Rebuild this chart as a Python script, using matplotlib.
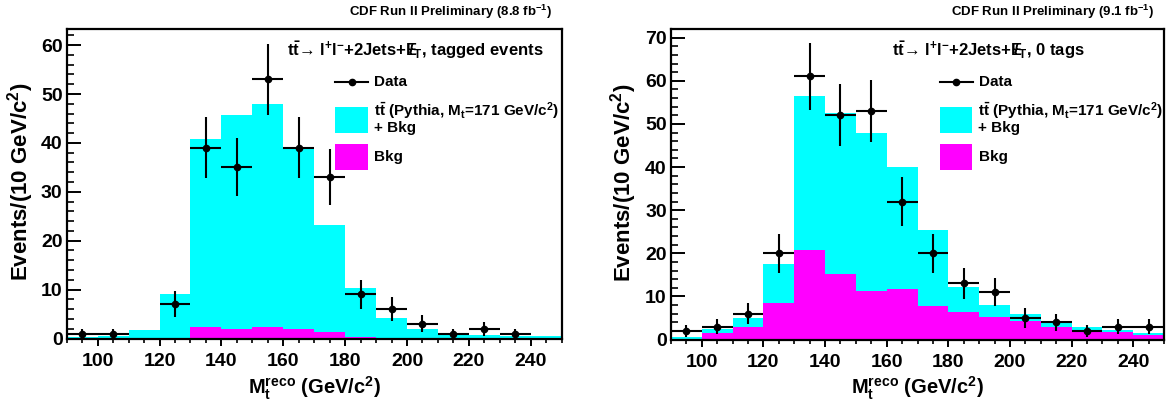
import numpy as np
import matplotlib
matplotlib.use("Agg")
import matplotlib.pyplot as plt
from matplotlib.patches import Rectangle
from matplotlib.lines import Line2D
from matplotlib.ticker import MultipleLocator

# bins of M_t^reco, 10 GeV/c^2 wide
bin_edges = [90, 100, 110, 120, 130, 140, 150, 160, 170, 180, 190, 200, 210, 220, 230, 240, 250]
bin_centers = [95, 105, 115, 125, 135, 145, 155, 165, 175, 185, 195, 205, 215, 225, 235, 245]

# tagged events (8.8 fb-1)
tag_total = [0.3, 0.6, 1.8, 9.2, 40.9, 45.7, 47.9, 39.0, 23.2, 10.4, 4.2, 2.0, 0.7, 0.8, 0.5, 0.5]
tag_bkg = [0.05, 0.05, 0.05, 0.15, 2.3, 2.0, 2.25, 2.0, 1.4, 0.35, 0.15, 0.1, 0.1, 0.2, 0.1, 0.1]
tag_data = [1, 1, 0, 7, 39, 35, 53, 39, 33, 9, 6, 3, 1, 2, 1, 0]

# 0 tags (9.1 fb-1)
notag_total = [0.6, 2.4, 5.0, 17.6, 56.5, 52.6, 47.8, 39.9, 25.3, 12.2, 8.1, 6.0, 4.1, 2.8, 2.3, 1.4]
notag_bkg = [0.1, 1.4, 2.8, 8.5, 20.8, 15.2, 11.3, 11.8, 7.8, 6.4, 5.3, 4.3, 2.9, 1.9, 1.8, 1.0]
notag_data = [2, 3, 6, 20, 61, 52, 53, 32, 20, 13, 11, 5, 4, 2, 3, 3]

W, H = 1167, 403
CYAN = "#00ffff"
MAGENTA = "#ff00ff"

plt.rcParams["font.family"] = ["Liberation Sans", "DejaVu Sans"]
plt.rcParams["font.weight"] = "bold"
plt.rcParams["mathtext.fontset"] = "custom"
plt.rcParams["mathtext.rm"] = "Liberation Sans:bold"
plt.rcParams["mathtext.it"] = "Liberation Sans:bold"
plt.rcParams["mathtext.bf"] = "Liberation Sans:bold"
plt.rcParams["mathtext.sf"] = "Liberation Sans:bold"

fig = plt.figure(figsize=(W / 100, H / 100), dpi=100)


def fx(x):
    return x / W


def fy(y):
    return 1 - y / H


def panel(left, right, top, bottom, total, bkg, data, ymax, lumi, title, dx, ylab_x):
    ax = fig.add_axes([fx(left), fy(bottom), (right - left) / W, (bottom - top) / H])
    ax.stairs(total, bin_edges, fill=True, color=CYAN, lw=0)
    ax.stairs(bkg, bin_edges, fill=True, color=MAGENTA, lw=0)

    d = np.array(data, dtype=float)
    c = np.array(bin_centers, dtype=float)
    m = d > 0
    ax.errorbar(c[m], d[m], yerr=np.sqrt(d[m]), xerr=5, fmt="o", color="black",
                ms=4.5, lw=1.5, capsize=0, zorder=5, clip_on=False)

    ax.set_xlim(90, 250)
    ax.set_ylim(0, ymax)
    ax.xaxis.set_major_locator(MultipleLocator(20))
    ax.xaxis.set_minor_locator(MultipleLocator(5))
    ax.yaxis.set_major_locator(MultipleLocator(10))
    ax.yaxis.set_minor_locator(MultipleLocator(2))
    ax.tick_params(axis="y", which="major", direction="in", length=10, width=1.4,
                   labelsize=14, pad=3)
    ax.tick_params(axis="y", which="minor", direction="in", length=5, width=1.2)
    ax.tick_params(axis="x", which="major", direction="out", length=5, width=1.4,
                   labelsize=14, pad=5.2)
    ax.tick_params(axis="x", which="minor", direction="out", length=3.2, width=1.2)
    for s in ax.spines.values():
        s.set_linewidth(1.6)
    for lab in ax.get_xticklabels() + ax.get_yticklabels():
        lab.set_fontweight("bold")

    ax.set_ylabel("Events/(10 GeV/c$^{2}$)", fontsize=16, fontweight="bold")
    ax.yaxis.set_label_coords((ylab_x - left) / (right - left), 0.505)
    ax.set_xlabel("M$_{t}^{reco}$ (GeV/c$^{2}$)", fontsize=14.5, fontweight="bold")
    ax.xaxis.set_label_coords(0.5, (bottom - 394) / (bottom - top))
    ax.xaxis.label.set_va("baseline")

    fig.text(fx(right - 10), fy(12), lumi, ha="right", va="center", fontsize=9.5,
             fontweight="bold")
    fig.text(fx(287 + dx), fy(50), title, ha="left", va="center", fontsize=12,
             fontweight="bold")

    # legend
    fig.add_artist(Line2D([fx(335 + dx), fx(368 + dx)], [fy(82), fy(82)], color="black",
                          lw=1.5, transform=fig.transFigure))
    fig.add_artist(Line2D([fx(351.5 + dx)], [fy(82)], color="black", marker="o", ms=4.5,
                          lw=0, transform=fig.transFigure))
    fs = 11
    fig.text(fx(374 + dx), fy(82), "Data", ha="left", va="center", fontsize=fs,
             fontweight="bold")
    fig.add_artist(Rectangle((fx(335 + dx), fy(133)), 33 / W, 26 / H, color=CYAN,
                             transform=fig.transFigure, lw=0))
    fig.text(fx(374 + dx), fy(111), r"t$\bar{t}$ (Pythia, M$_{t}$=171 GeV/c$^{2}$)",
             ha="left", va="center", fontsize=fs, fontweight="bold")
    fig.text(fx(374 + dx), fy(128), "+ Bkg", ha="left", va="center", fontsize=fs,
             fontweight="bold")
    fig.add_artist(Rectangle((fx(335 + dx), fy(170)), 33 / W, 26 / H, color=MAGENTA,
                             transform=fig.transFigure, lw=0))
    fig.text(fx(374 + dx), fy(157), "Bkg", ha="left", va="center", fontsize=fs,
             fontweight="bold")
    return ax


decay = "t$\\bar{t}$\u2192 l$^{+}$l$^{-}$+2Jets+$E\\!\\!\\!/_{T}$"
ax1 = panel(66.7, 561.7, 29, 338.5, tag_total, tag_bkg, tag_data, 63.3,
            "CDF Run II Preliminary (8.8 fb$^{-1}$)", decay + ", tagged events", 0, 36)
ax2 = panel(671, 1164, 29, 339.5, notag_total, notag_bkg, notag_data, 72,
            "CDF Run II Preliminary (9.1 fb$^{-1}$)", decay + ", 0 tags", 604.5, 639)

fig.savefig("out.png", dpi=100)
